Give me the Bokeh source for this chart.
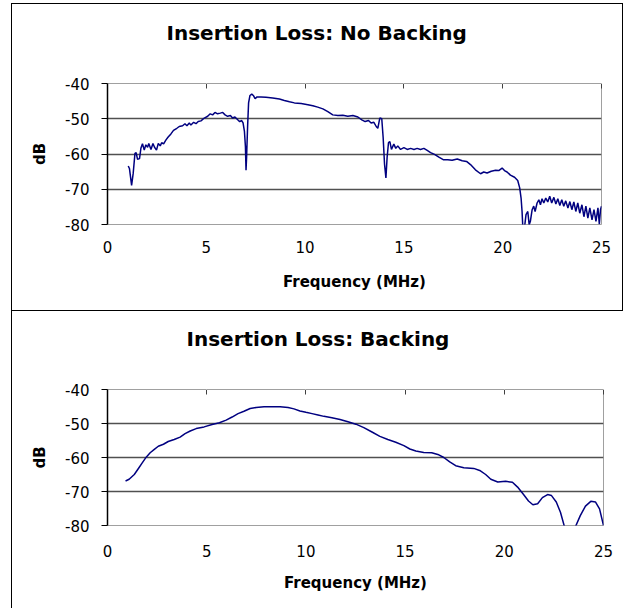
from bokeh.plotting import figure
from bokeh.models import FixedTicker, Range1d, LinearAxis
from bokeh.layouts import column
from bokeh.embed import file_html
from bokeh.resources import INLINE

title_nb = "Insertion Loss: No Backing"
title_b = "Insertion Loss: Backing"
x_label = "Frequency (MHz)"
y_label = "dB"
x_ticks = [0, 5, 10, 15, 20, 25]
x_tick_labels = ["0", "5", "10", "15", "20", "25"]
y_ticks = [-80, -70, -60, -50, -40]
y_tick_labels = ["-80", "-70", "-60", "-50", "-40"]

freq_nb = [1.05, 1.11, 1.22, 1.30, 1.39, 1.45, 1.52, 1.62, 1.69, 1.77, 1.86, 1.94, 2.03, 2.09, 2.20,
           2.30, 2.38, 2.48, 2.57, 2.67, 2.74, 2.84, 2.96, 3.07, 3.21, 3.34, 3.51, 3.63, 3.80, 3.92,
           4.02, 4.14, 4.22, 4.36, 4.48, 4.59, 4.73, 4.90, 5.07, 5.20, 5.32, 5.44, 5.57, 5.71, 5.83,
           5.95, 6.08, 6.22, 6.33, 6.45, 6.59, 6.69, 6.79, 6.86, 6.93, 6.98, 7.01, 7.04, 7.09, 7.14,
           7.21, 7.30, 7.38, 7.47, 7.57, 7.77, 8.02, 8.36, 8.70, 8.95, 9.21, 9.46, 9.80, 10.14, 10.39,
           10.64, 10.90, 11.15, 11.40, 11.66, 11.91, 12.16, 12.42, 12.67, 12.87, 13.04, 13.21, 13.34,
           13.48, 13.60, 13.68, 13.78, 13.88, 13.95, 14.02, 14.09, 14.15, 14.22, 14.29, 14.37, 14.49,
           14.59, 14.69, 14.83, 15.00, 15.17, 15.34, 15.51, 15.67, 15.84, 16.01, 16.18, 16.35, 16.55,
           16.77, 16.99, 17.22, 17.44, 17.70, 17.95, 18.17, 18.37, 18.62, 18.88, 19.04, 19.21, 19.42,
           19.64, 19.80, 19.97, 20.09, 20.22, 20.39, 20.60, 20.76, 20.86, 20.93, 20.98, 21.02, 21.10,
           21.18, 21.27, 21.34, 21.40, 21.49, 21.57, 21.64, 21.74, 21.83, 21.91, 21.99, 22.08, 22.18,
           22.28, 22.38, 22.48, 22.59, 22.69, 22.79, 22.89, 22.99, 23.09, 23.19, 23.30, 23.40, 23.50,
           23.60, 23.70, 23.80, 23.90, 24.01, 24.11, 24.21, 24.31, 24.41, 24.52, 24.62, 24.72, 24.82,
           24.89, 24.95, 25.00]
db_nb = [-63.4, -64.1, -68.9, -65.5, -59.8, -59.6, -61.5, -61.3, -58.4, -57.1, -58.9, -57.4, -58.1, -57.0, -58.7,
         -57.0, -58.1, -58.9, -57.0, -57.7, -56.8, -57.1, -56.0, -55.2, -54.3, -53.3, -52.7, -52.2, -52.0, -51.4,
         -52.0, -51.2, -51.8, -51.0, -51.4, -50.8, -50.6, -49.8, -49.3, -48.6, -48.9, -48.2, -48.6, -48.4, -48.2,
         -48.9, -49.3, -49.1, -49.8, -49.5, -50.3, -50.8, -50.5, -51.2, -53.6, -57.9, -64.6, -60.8, -52.2, -45.5,
         -43.4, -43.0, -43.4, -44.3, -43.8, -43.8, -43.9, -44.1, -44.4, -44.8, -45.2, -45.5, -45.7, -46.0, -46.3,
         -46.7, -47.2, -48.0, -48.9, -49.1, -49.0, -49.3, -49.1, -49.5, -50.3, -50.8, -50.5, -51.2,
         -51.0, -52.2, -52.7, -49.8, -50.0, -55.3, -62.9, -66.8, -61.0, -56.8, -56.5, -58.7, -57.2,
         -58.4, -57.7, -58.7, -58.2, -58.7, -58.4, -58.7, -58.4, -58.7, -58.4, -59.0, -59.6, -60.1,
         -60.9, -61.6, -61.6, -61.8, -61.4, -61.9, -62.1, -63.0, -64.5, -65.6, -65.1, -65.4, -64.9,
         -64.6, -64.7, -64.0, -64.7, -65.1, -66.0, -66.6, -67.5, -69.6, -72.5, -76.3, -81.0, -81.0,
         -77.2, -76.3, -80.1, -79.1, -75.8, -74.8, -76.3, -73.9, -73.0, -74.4, -72.7, -73.9, -72.5,
         -73.6, -72.0, -73.9, -72.3, -74.2, -72.7, -74.6, -73.0, -74.8, -73.3, -75.3, -73.5, -75.8,
         -73.6, -76.3, -73.9, -76.8, -74.4, -77.8, -74.8, -78.2, -75.3, -78.7, -75.8, -79.1, -75.3,
         -79.9, -75.8, -74.8]

freq_b = [0.91, 1.09, 1.35, 1.55, 1.75, 1.95, 2.15, 2.36, 2.56, 2.82, 3.06, 3.36, 3.66, 3.91, 4.17,
          4.47, 4.87, 5.27, 5.64, 5.98, 6.28, 6.58, 6.88, 7.19, 7.49, 7.89, 8.29, 8.70, 9.10, 9.40,
          9.70, 10.00, 10.31, 10.61, 10.91, 11.31, 11.72, 12.12, 12.52, 12.92, 13.33, 13.73, 14.13,
          14.53, 14.94, 15.24, 15.54, 15.94, 16.34, 16.65, 16.95, 17.25, 17.55, 17.96, 18.46, 18.76,
          19.06, 19.32, 19.67, 20.07, 20.41, 20.67, 20.97, 21.22, 21.44, 21.68, 21.92, 22.18, 22.38,
          22.62, 22.83, 23.03, 23.30, 23.59, 23.83, 24.09, 24.36, 24.60, 24.80, 25.00]
db_b = [-66.9, -66.4, -65.0, -63.3, -61.6, -59.9, -58.6, -57.6, -56.7, -56.1, -55.3, -54.7, -54.0, -53.0, -52.2,
        -51.5, -51.0, -50.3, -49.8, -49.0, -48.1, -47.1, -46.4, -45.6, -45.3, -45.1, -45.1, -45.1, -45.3, -45.7,
        -46.3, -46.7, -47.1, -47.5, -47.9, -48.3, -48.8, -49.5, -50.2, -51.2, -52.5, -53.8, -54.7,
        -55.5, -56.5, -57.5, -58.1, -58.5, -58.6, -59.1, -60.0, -61.3, -62.4, -63.0, -63.2, -63.8,
        -65.0, -66.4, -67.2, -67.0, -67.3, -68.7, -70.9, -72.8, -73.9, -73.6, -71.8, -70.9, -71.2,
        -73.1, -76.1, -80.3, -84.0, -80.3, -77.1, -74.3, -72.9, -73.1, -75.1, -80.0]


def make_panel(title, xs, ys, width, height, left, right, top, bottom,
               title_offset, spacer, xlab_standoff, xtitle_standoff):
    p = figure(width=width, height=height, output_backend="svg", toolbar_location=None,
               x_range=Range1d(0, 25), y_range=Range1d(-80, -40),
               min_border_left=left, min_border_right=right,
               min_border_top=top, min_border_bottom=bottom,
               background_fill_color="white", border_fill_color="white")
    p.outline_line_color = "#a0a0a0"
    p.outline_line_width = 1

    p.title.text = title
    p.title.text_font = "DejaVu Sans"
    p.title.text_font_size = "20px"
    p.title.text_font_style = "bold"
    p.title.text_color = "black"
    p.title.align = "left"
    p.title.offset = title_offset
    p.title.standoff = 0

    p.xgrid.visible = False
    p.ygrid.ticker = FixedTicker(ticks=y_ticks)
    p.ygrid.grid_line_color = "#505050"
    p.ygrid.grid_line_width = 1.5

    xa = p.xaxis[0]
    xa.ticker = FixedTicker(ticks=x_ticks)
    xa.major_label_overrides = dict(zip(x_ticks, x_tick_labels))
    xa.axis_line_color = None
    xa.major_tick_out = 0
    xa.major_tick_in = 0
    xa.minor_tick_line_color = None
    xa.major_label_standoff = xlab_standoff
    xa.major_label_text_font = "DejaVu Sans"
    xa.major_label_text_font_size = "15px"
    xa.major_label_text_color = "black"
    xa.axis_label = x_label
    xa.axis_label_standoff = xtitle_standoff
    xa.axis_label_text_font = "DejaVu Sans"
    xa.axis_label_text_font_size = "15px"
    xa.axis_label_text_font_style = "bold"
    xa.axis_label_text_color = "black"

    ya = p.yaxis[0]
    ya.ticker = FixedTicker(ticks=y_ticks)
    ya.major_label_overrides = dict(zip(y_ticks, y_tick_labels))
    ya.axis_line_color = "black"
    ya.axis_line_width = 1.5
    ya.major_tick_out = 6
    ya.major_tick_in = 0
    ya.major_tick_line_color = "black"
    ya.minor_tick_line_color = None
    ya.major_label_standoff = 12
    ya.major_label_text_font = "DejaVu Sans"
    ya.major_label_text_font_size = "15px"
    ya.major_label_text_color = "black"
    ya.axis_label = y_label
    ya.axis_label_standoff = 13
    ya.axis_label_text_font = "DejaVu Sans"
    ya.axis_label_text_font_size = "15px"
    ya.axis_label_text_font_style = "bold"
    ya.axis_label_text_color = "black"

    # tick marks hanging from the top edge of the plot, no labels
    top_ticks = LinearAxis(ticker=FixedTicker(ticks=x_ticks), axis_line_color=None,
                           major_tick_in=5, major_tick_out=0, major_tick_line_color="#404040",
                           minor_tick_line_color=None, major_label_text_color=None,
                           major_label_standoff=0)
    p.add_layout(top_ticks, "above")
    # invisible (white) outward ticks: vertical space between the title and the plot
    gap_axis = LinearAxis(ticker=FixedTicker(ticks=x_ticks), axis_line_color=None,
                          major_tick_in=0, major_tick_out=spacer, major_tick_line_color="white",
                          minor_tick_line_color=None, major_label_text_color=None,
                          major_label_standoff=0)
    p.add_layout(gap_axis, "above")

    p.line(xs, ys, line_color="#000080", line_width=1.5)
    return p


p1 = make_panel(title_nb, freq_nb, db_nb, 612, 308, 95, 23, 79, 88, 59, 39, 16, 17)
p1.margin = (3, 0, 0, 11)
p1.styles = {"border": "1px solid black"}

p2 = make_panel(title_b, freq_b, db_b, 614, 297, 95, 23, 78, 83, 79, 39, 19, 14)
p2.margin = (0, 0, 0, 11)
p2.styles = {"border-left": "1px solid black"}

layout = column(p1, p2)
open("out.html", "w").write(file_html(layout, INLINE))
